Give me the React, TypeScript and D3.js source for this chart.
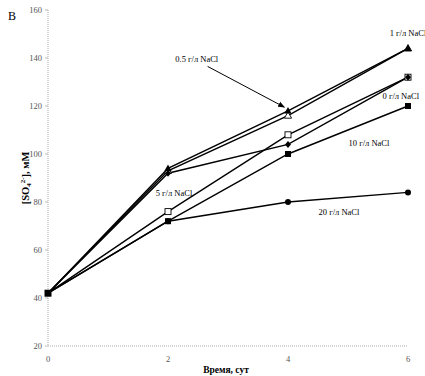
import React from "react";
import * as d3 from "d3";

const days = [0, 2, 4, 6];
const seriesNames = ["1 г/л NaCl", "0.5 г/л NaCl", "5 г/л NaCl", "0 г/л NaCl", "10 г/л NaCl", "20 г/л NaCl"];
const s1 = [42, 94, 118, 144];
const s05 = [42, 93, 116, 144];
const s5 = [42, 92, 104, 132];
const s0 = [42, 76, 108, 132];
const s10 = [42, 72, 100, 120];
const s20 = [42, 72, 80, 84];
const yTicks = [20, 40, 60, 80, 100, 120, 140, 160];
const xTicks = [0, 2, 4, 6];

const markers = ["triFilled", "triOpen", "diamond", "squareOpen", "squareFilled", "circle"];
const allSeries = [s1, s05, s5, s0, s10, s20];
const markerOrder = [1, 3, 0, 2, 4, 5];

const labels = [
  { text: "1 г/л NaCl", x: 6, y: 149 },
  { text: "0.5 г/л NaCl", x: 2.48, y: 138.5 },
  { text: "0 г/л NaCl", x: 5.88, y: 123 },
  { text: "10 г/л NaCl", x: 5.35, y: 103.5 },
  { text: "5 г/л NaCl", x: 2.1, y: 82.5 },
  { text: "20 г/л NaCl", x: 4.85, y: 74.5 },
];

export default function App() {
  const x = d3.scaleLinear().domain([0, 6]).range([48, 408]);
  const y = d3.scaleLinear().domain([20, 160]).range([346, 10]);
  const line = d3.line<number>().x((_, i) => x(days[i])).y((d) => y(d));
  const font = "'Liberation Serif', 'Times New Roman', serif";

  const marker = (type: string, cx: number, cy: number, key: string) => {
    const s = 3;
    switch (type) {
      case "triFilled":
        return <path key={key} d={`M${cx},${cy - 3.8}L${cx + 3.6},${cy + 2.6}L${cx - 3.6},${cy + 2.6}Z`} fill="#000" />;
      case "triOpen":
        return <path key={key} d={`M${cx},${cy - 3.8}L${cx + 3.6},${cy + 2.6}L${cx - 3.6},${cy + 2.6}Z`} fill="#fff" stroke="#000" strokeWidth={0.9} />;
      case "diamond":
        return <path key={key} d={`M${cx},${cy - 3.5}L${cx + 3},${cy}L${cx},${cy + 3.5}L${cx - 3},${cy}Z`} fill="#000" />;
      case "squareOpen":
        return <rect key={key} x={cx - s} y={cy - s} width={2 * s} height={2 * s} fill="#fff" stroke="#000" strokeWidth={0.9} />;
      case "squareFilled":
        return <rect key={key} x={cx - s} y={cy - s} width={2 * s} height={2 * s} fill="#000" />;
      default:
        return <circle key={key} cx={cx} cy={cy} r={3} fill="#000" />;
    }
  };

  return (
    <svg width={425} height={376} style={{ position: "absolute", left: 0, top: 0, background: "#fff" }}>
      <defs>
        <marker id="arr" viewBox="0 0 10 10" refX="9" refY="5" markerWidth="7" markerHeight="7" orient="auto">
          <path d="M0,1L10,5L0,9Z" fill="#000" />
        </marker>
      </defs>
      <text x={8} y={20} fontFamily={font} fontSize={12}>B</text>
      <line x1={x(0)} x2={x(0)} y1={y(160)} y2={y(20)} stroke="#aaa" strokeWidth={1} strokeDasharray="1,1" />
      <line x1={x(0)} x2={x(6)} y1={y(20)} y2={y(20)} stroke="#aaa" strokeWidth={1} strokeDasharray="1,1" />
      {yTicks.map((t) => (
        <g key={t}>
          <line x1={x(0) - 3} x2={x(0)} y1={y(t)} y2={y(t)} stroke="#aaa" strokeWidth={0.8} />
          <text x={x(0) - 6} y={y(t) + 3} textAnchor="end" fontFamily={font} fontSize={8.5} fill="#555">{t}</text>
        </g>
      ))}
      {xTicks.map((t) => (
        <text key={t} x={x(t)} y={362} textAnchor="middle" fontFamily={font} fontSize={8.5} fill="#555">{t}</text>
      ))}
      <text x={226} y={373} textAnchor="middle" fontFamily={font} fontSize={9.5} fontWeight="bold">Время, сут</text>
      <text transform={`translate(29,178) rotate(-90)`} textAnchor="middle" fontFamily={font} fontSize={10.5} fontWeight="bold">
        [SO<tspan fontSize={7} dy={2}>4</tspan><tspan fontSize={7} dy={-6}>2-</tspan><tspan dy={4}>], мМ</tspan>
      </text>
      {allSeries.map((s, i) => (
        <path key={seriesNames[i]} d={line(s) || ""} fill="none" stroke="#000" strokeWidth={1.4} />
      ))}
      {markerOrder.map((i) => allSeries[i].map((v, j) => (j === 0 ? null : marker(markers[i], x(days[j]), y(v), `${i}-${j}`))))}
      <rect x={x(0) - 3.5} y={y(42) - 3.5} width={7} height={7} fill="#000" />
      {labels.map((l) => (
        <text key={l.text} x={x(l.x)} y={y(l.y)} textAnchor="middle" fontFamily={font} fontSize={8.5}>{l.text}</text>
      ))}
      <line x1={x(2.66)} y1={y(136.5)} x2={x(3.94)} y2={y(119.5)} stroke="#000" strokeWidth={1} markerEnd="url(#arr)" />
    </svg>
  );
}
